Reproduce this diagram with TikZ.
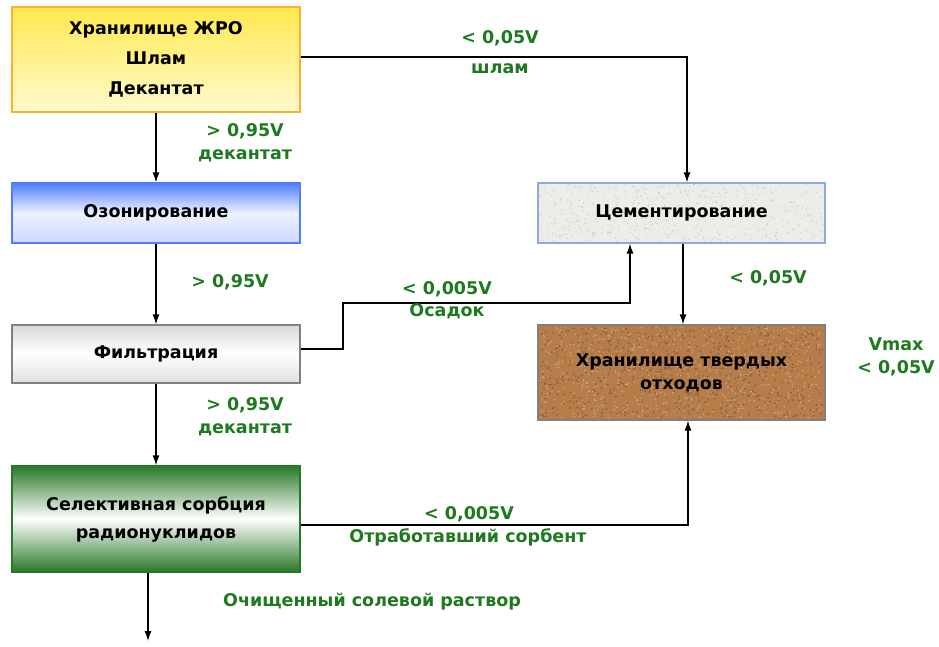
\documentclass[tikz,border=0pt]{standalone}
\usepackage{fontspec}
\setmainfont{DejaVu Sans}
\usetikzlibrary{calc, positioning, arrows.meta, backgrounds}

\definecolor{lblgreen}{RGB}{30,122,30}
\definecolor{boxyellow}{RGB}{255,232,80}
\definecolor{paleyellow}{RGB}{255,250,205}
\definecolor{boxorange}{RGB}{255,176,40}
\definecolor{boxblue}{RGB}{80,125,255}
\definecolor{paleblue}{RGB}{205,215,255}
\definecolor{darkgreen}{RGB}{40,120,40}
\definecolor{cemgray}{RGB}{236,236,232}
\definecolor{cemborder}{RGB}{140,170,220}
\definecolor{soil}{RGB}{182,124,74}

\tikzset{
  box/.style={draw, line width=1.2pt, minimum width=288pt, align=center,
    font=\fontsize{17.5}{30}\selectfont\bfseries, inner sep=0pt},
  lbl/.style={text=lblgreen, font=\fontsize{17.5}{23}\selectfont\bfseries,
    align=center, inner sep=0pt},
  flow/.style={line width=1.2pt, -{Latex[length=10pt,width=7pt]}},
  link/.style={line width=1.2pt}
}

\begin{document}
\begin{tikzpicture}[x=1pt, y=-1pt]
  \useasboundingbox (0,0) rectangle (939,647);

  % left column
  \node[box, boxorange, text=black, top color=boxyellow, bottom color=paleyellow,
        minimum height=105pt] (zhro) at (156,59.5)
        {Хранилище ЖРО\\Шлам\\Декантат};
  \node[box, boxblue, text=black, top color=boxblue, bottom color=paleblue,
        middle color=white!90!boxblue, minimum height=60pt] (ozon) at (156,213) {Озонирование};
  \node[box, gray, text=black, top color=gray!30, bottom color=gray!25,
        middle color=white, minimum height=58pt] (filt) at (156,354) {Фильтрация};
  \node[box, darkgreen, text=black, top color=darkgreen, bottom color=darkgreen,
        middle color=white, minimum height=106pt,
        font=\fontsize{17.5}{28}\selectfont\bfseries] (sorb) at (156,519)
        {Селективная сорбция\\радионуклидов};

  % right column
  \node[box, cemborder, text=black, minimum width=287pt, minimum height=60pt]
        (cem) at (681.5,213) {Цементирование};
  \node[box, gray, text=black, minimum width=287pt, minimum height=95pt,
        font=\fontsize{17.5}{23}\selectfont\bfseries]
        (tver) at (681.5,372.5) {Хранилище твердых\\отходов};

  % textures
  \begin{scope}[on background layer]
    \fill[white] (0,0) rectangle (939,647);
    \fill[cemgray] (cem.north west) rectangle (cem.south east);
    \fill[soil] (tver.north west) rectangle (tver.south east);
    \pgfmathsetseed{7}
    \foreach \i in {1,...,500} {
      \pgfmathsetmacro{\px}{539+285*rnd}
      \pgfmathsetmacro{\py}{184+58*rnd}
      \fill[gray!40] (\px,\py) circle (0.7pt);
    }
    \foreach \i in {1,...,700} {
      \pgfmathsetmacro{\px}{540+283*rnd}
      \pgfmathsetmacro{\py}{327+91*rnd}
      \fill[soil!75!black] (\px,\py) circle (0.9pt);
      \pgfmathsetmacro{\qx}{540+283*rnd}
      \pgfmathsetmacro{\qy}{327+91*rnd}
      \fill[soil!65!white] (\qx,\qy) circle (0.8pt);
    }
  \end{scope}

  % main line
  \draw[flow] (zhro) -- (ozon);
  \draw[flow] (ozon) -- (filt);
  \draw[flow] (filt) -- (sorb);
  \coordinate (out) at (148,641);
  \draw[flow] (sorb.south -| out) -- (out);
  \draw[flow] ([xshift=1.5pt]cem.south) -- ([xshift=1.5pt]tver.north);

  % side lines
  \draw[flow] (zhro.east |- 0,57) -| ([xshift=5.5pt]cem.north);
  \coordinate (fa) at (343,349);
  \coordinate (fb) at (630,303);
  \draw[flow] (filt.east |- fa) -- (fa) |- (fb) -- (fb |- cem.south);
  \coordinate (sa) at (688,525);
  \draw[flow] (sorb.east |- sa) -- (sa) -- (sa |- tver.south);

  % labels
  \node[lbl] (l1) at (245,143) {> 0,95V\\декантат};
  \node[lbl] (l2) at (230,282) {> 0,95V};
  \node[lbl] (l3) at (245,417) {> 0,95V\\декантат};
  \node[lbl] (l4) at (372,602) {Очищенный солевой раствор};
  \node[lbl] (l5) at (500,38) {< 0,05V};
  \node[lbl] (l6) at (500,69) {шлам};
  \node[lbl] (l7) at (447,289) {< 0,005V};
  \node[lbl] (l8) at (447,311) {Осадок};
  \node[lbl] (l9) at (768,278) {< 0,05V};
  \node[lbl] (l10) at (896,357) {Vmax\\< 0,05V};
  \node[lbl] (l11) at (469,514) {< 0,005V};
  \node[lbl] (l12) at (468,537) {Отработавший сорбент};
\end{tikzpicture}
\end{document}
